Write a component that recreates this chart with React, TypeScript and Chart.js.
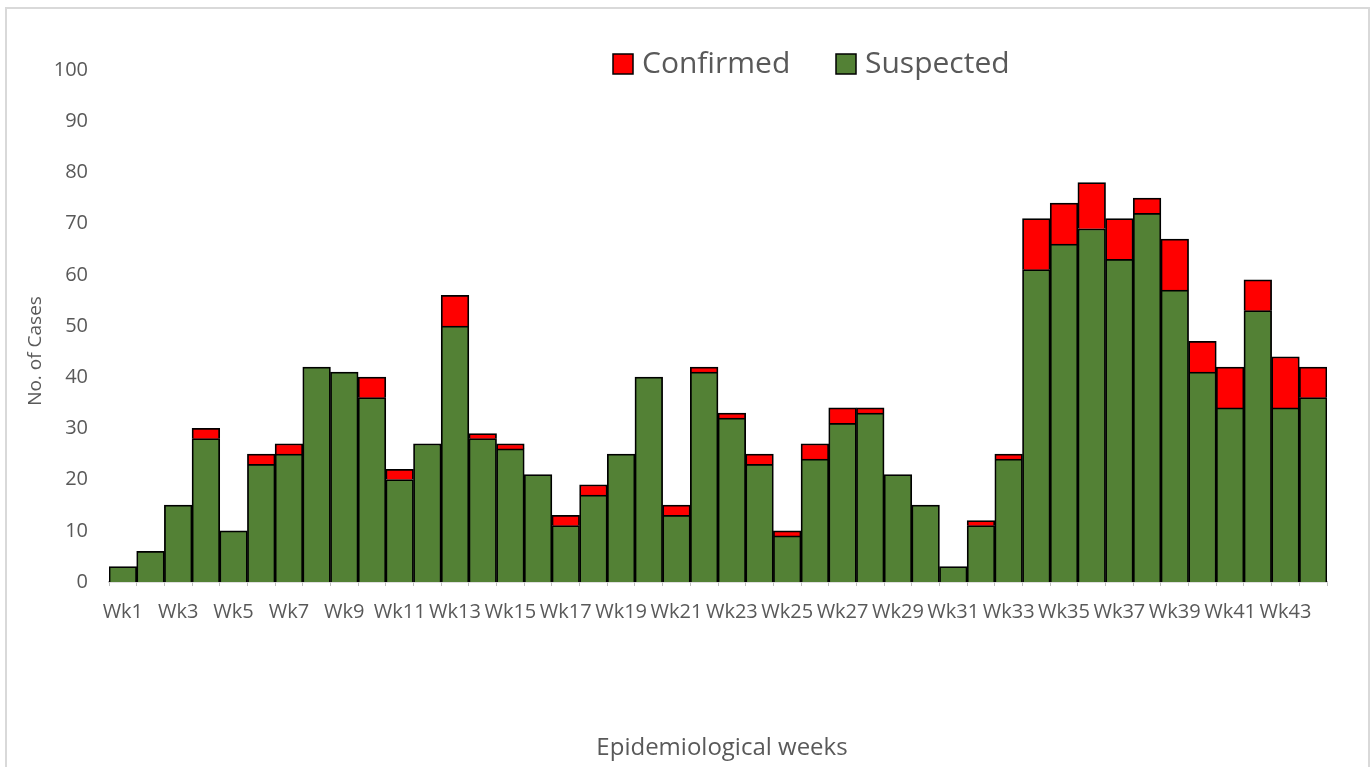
import React, { useEffect, useRef } from "react";
import { Chart, registerables } from "chart.js";

Chart.register(...registerables);

const weeks: string[] = Array.from({ length: 44 }, (_, i) => `Wk${i + 1}`);

const suspected: number[] = [
  3, 6, 15, 28, 10, 23, 25, 42, 41, 36,
  20, 27, 50, 28, 26, 21, 11, 17, 25, 40,
  13, 41, 32, 23, 9, 24, 31, 33, 21, 15,
  3, 11, 24, 61, 66, 69, 63, 72, 57, 41,
  34, 53, 34, 36,
];

const confirmed: number[] = [
  0, 0, 0, 2, 0, 2, 2, 0, 0, 4,
  2, 0, 6, 1, 1, 0, 2, 2, 0, 0,
  2, 1, 1, 2, 1, 3, 3, 1, 0, 0,
  0, 1, 1, 10, 8, 9, 8, 3, 10, 6,
  8, 6, 10, 6,
];

const yTicks: number[] = [0, 10, 20, 30, 40, 50, 60, 70, 80, 90, 100];

const FONT = "'Open Sans', 'Noto Sans', sans-serif";
const TEXT = "#595959";
const GREEN = "#538135";
const RED = "#FF0000";

const overlayPlugin = {
  id: "overlay",
  afterDraw(chart: any) {
    const ctx = chart.ctx;
    const area = chart.chartArea;
    ctx.save();
    // legend
    const items = [
      { label: "Confirmed", color: RED, x: 613 },
      { label: "Suspected", color: GREEN, x: 836 },
    ];
    ctx.font = `30px ${FONT}`;
    ctx.textBaseline = "middle";
    ctx.textAlign = "left";
    for (const it of items) {
      ctx.fillStyle = it.color;
      ctx.fillRect(it.x, 54, 20, 20);
      ctx.strokeStyle = "#000";
      ctx.lineWidth = 1.5;
      ctx.strokeRect(it.x, 54, 20, 20);
      ctx.fillStyle = TEXT;
      ctx.fillText(it.label, it.x + 29, 64);
    }
    // x title
    ctx.font = `24px ${FONT}`;
    ctx.textAlign = "center";
    ctx.fillText("Epidemiological weeks", (area.left + area.right) / 2 + 4, 748);
    // y title
    ctx.translate(36, 351);
    ctx.rotate(-Math.PI / 2);
    ctx.font = `19px ${FONT}`;
    ctx.fillText("No. of Cases", 0, 0);
    ctx.restore();
  },
};

export default function App() {
  const ref = useRef<HTMLCanvasElement | null>(null);

  useEffect(() => {
    document.body.style.margin = "0";
    const canvas = ref.current;
    if (!canvas) return;
    const chart = new Chart(canvas, {
      type: "bar",
      data: {
        labels: weeks,
        datasets: [
          {
            label: "Suspected",
            data: suspected,
            backgroundColor: GREEN,
            borderColor: "#000",
            borderWidth: 1.75,
            categoryPercentage: 1,
            barPercentage: 1,
          },
          {
            label: "Confirmed",
            data: confirmed,
            backgroundColor: RED,
            borderColor: "#000",
            borderWidth: 1.75,
            categoryPercentage: 1,
            barPercentage: 1,
          },
        ],
      },
      options: {
        animation: false,
        responsive: false,
        maintainAspectRatio: false,
        layout: { padding: { top: 70, right: 43, left: 0, bottom: 0 } },
        plugins: {
          legend: { display: false },
          tooltip: { enabled: false },
          title: { display: false },
        },
        scales: {
          x: {
            stacked: true,
            grid: {
              display: true,
              drawOnChartArea: false,
              drawTicks: true,
              tickLength: 4,
              offset: true,
              color: "#bfbfbf",
            },
            border: { display: true, color: "#bfbfbf", width: 1.5 },
            ticks: {
              autoSkip: false,
              maxRotation: 0,
              minRotation: 0,
              padding: 14,
              color: TEXT,
              font: { family: FONT, size: 20 },
              callback: (_v: any, i: number) => (i % 2 === 0 ? weeks[i] : ""),
            },
            afterFit: (scale: any) => {
              scale.height = 185;
            },
          },
          y: {
            stacked: true,
            min: 0,
            max: 100,
            afterBuildTicks: (scale: any) => {
              scale.ticks = yTicks.map((v) => ({ value: v }));
            },
            grid: { display: false, drawTicks: false },
            border: { display: false },
            ticks: {
              padding: 21,
              color: TEXT,
              font: { family: FONT, size: 20 },
            },
            afterFit: (scale: any) => {
              scale.width = 109;
            },
          },
        },
      },
      plugins: [overlayPlugin],
    });
    return () => chart.destroy();
  }, []);

  return (
    <div style={{ position: "fixed", left: 0, top: 0, width: 1370, height: 767, background: "#fff", overflow: "hidden" }}>
      <div
        style={{
          position: "absolute",
          left: 5,
          top: 7,
          width: 1361,
          height: 800,
          border: "2px solid #d9d9d9",
        }}
      />
      <canvas ref={ref} width={1370} height={767} style={{ position: "absolute", left: 0, top: 0, width: 1370, height: 767 }} />
    </div>
  );
}
